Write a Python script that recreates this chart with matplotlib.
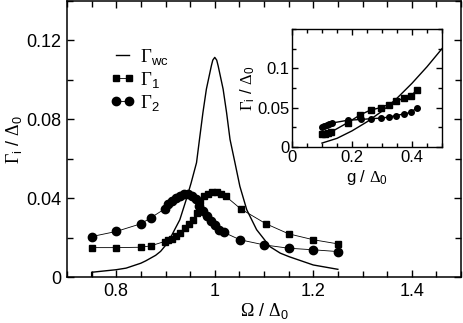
import matplotlib
matplotlib.use("Agg")
import matplotlib.pyplot as plt
from matplotlib.ticker import MultipleLocator

plt.rcParams['font.family'] = ['Liberation Sans', 'DejaVu Sans']
plt.rcParams['mathtext.fontset'] = 'custom'
plt.rcParams['mathtext.rm'] = 'Liberation Serif'
plt.rcParams['mathtext.sf'] = 'Liberation Sans'
plt.rcParams['mathtext.it'] = 'Liberation Sans:italic'

# ---- main panel data ----
wc_x = [0.75, 0.75, 0.80, 0.82, 0.85, 0.86, 0.88, 0.89, 0.90, 0.908, 0.915, 0.929, 0.942,
        0.952, 0.963, 0.969, 0.976, 0.983, 0.993, 0.996, 1.0, 1.004, 1.007, 1.017, 1.024,
        1.031, 1.041, 1.051, 1.065, 1.085, 1.112, 1.133, 1.151, 1.2, 1.25]
wc_y = [0.0, 0.0024, 0.0037, 0.0045, 0.007, 0.0082, 0.011, 0.013, 0.016, 0.0189, 0.0223, 0.029, 0.0392,
        0.0477, 0.058, 0.0698, 0.0834, 0.0953, 0.107, 0.110, 0.1114, 0.110, 0.107, 0.0953, 0.0834,
        0.0698, 0.058, 0.046, 0.0341, 0.024, 0.0154, 0.0121, 0.0103, 0.0061, 0.0039]

g1_x = [0.75, 0.80, 0.85, 0.87, 0.898, 0.906, 0.914, 0.922, 0.930, 0.939, 0.947, 0.956,
        0.963, 0.971, 0.978, 0.987, 0.995, 1.004, 1.012, 1.022, 1.053, 1.104, 1.15, 1.2, 1.25]
g1_y = [0.0149, 0.0149, 0.0151, 0.0158, 0.018, 0.0189, 0.0195, 0.0207, 0.0223, 0.0248, 0.0269, 0.029,
        0.0324, 0.0385, 0.041, 0.0423, 0.043, 0.043, 0.0423, 0.041, 0.0345, 0.027, 0.0219, 0.0189, 0.0168]

g2_x = [0.75, 0.80, 0.85, 0.87, 0.898, 0.906, 0.914, 0.922, 0.930, 0.938, 0.946, 0.954,
        0.961, 0.968, 0.976, 0.985, 0.992, 1.0, 1.009, 1.019, 1.051, 1.10, 1.15, 1.2, 1.25]
g2_y = [0.0205, 0.0231, 0.027, 0.030, 0.0345, 0.0372, 0.0388, 0.0402, 0.0412, 0.042, 0.042, 0.0413,
        0.0398, 0.0358, 0.0333, 0.0307, 0.0282, 0.0265, 0.024, 0.0226, 0.0189, 0.0163, 0.0146, 0.0138, 0.0129]

# ---- inset data ----
in_wc_g = [0.1, 0.15, 0.2, 0.25, 0.3, 0.35, 0.4, 0.45, 0.5]
in_wc_y = [0.005, 0.011, 0.0205, 0.032, 0.0455, 0.062, 0.081, 0.102, 0.125]

in_g1_g = [0.1, 0.11, 0.12, 0.13, 0.186, 0.228, 0.262, 0.295, 0.322, 0.347, 0.372, 0.398, 0.416]
in_g1_y = [0.016, 0.0165, 0.0175, 0.019, 0.031, 0.041, 0.047, 0.050, 0.054, 0.058, 0.062, 0.065, 0.073]

in_g2_g = [0.1, 0.108, 0.116, 0.124, 0.132, 0.186, 0.231, 0.264, 0.297, 0.322, 0.347, 0.372, 0.397, 0.416]
in_g2_y = [0.0249, 0.0266, 0.0283, 0.0295, 0.0304, 0.034, 0.035, 0.036, 0.0367, 0.038, 0.040, 0.042, 0.044, 0.050]

fig = plt.figure(figsize=(4.63, 3.23), dpi=100)
ax = fig.add_axes([67/463, 1-277/323, (461-67)/463, (277-1)/323])

ax.plot(wc_x, wc_y, color='black', lw=1.0, label=r'$\Gamma_{\mathsf{wc}}$')
ax.plot(g1_x, g1_y, color='black', lw=0.6, marker='s', ms=5, label=r'$\Gamma_{\mathsf{1}}$')
ax.plot(g2_x, g2_y, color='black', lw=0.6, marker='o', ms=6, label=r'$\Gamma_{\mathsf{2}}$')

ax.set_xlim(0.7, 1.5)
ax.set_ylim(0, 0.14)
ax.xaxis.set_minor_locator(MultipleLocator(0.05))
ax.yaxis.set_minor_locator(MultipleLocator(0.02))
ax.set_xticks([0.8, 1.0, 1.2, 1.4])
ax.set_xticklabels(['0.8', '1', '1.2', '1.4'])
ax.set_yticks([0, 0.04, 0.08, 0.12])
ax.set_yticklabels(['0', '0.04', '0.08', '0.12'])
ax.tick_params(which='both', direction='in', top=True, right=True, labelsize=13, width=1)
ax.tick_params(which='major', length=5, pad=4)
ax.tick_params(which='minor', length=4)
for s in ax.spines.values():
    s.set_linewidth(1.1)
ax.set_xlabel(r'$\Omega$ / $\Delta_{\mathsf{0}}$', fontsize=13, labelpad=1)
ax.set_ylabel(r'$\Gamma_{\mathsf{i}}$ / $\Delta_{\mathsf{0}}$', fontsize=13, labelpad=2)

leg = ax.legend(loc='upper left', bbox_to_anchor=((110-67)/394, (277-47)/276), frameon=False,
                fontsize=13.5, handlelength=1.3, handletextpad=0.3, labelspacing=0.15,
                borderpad=0, borderaxespad=0, numpoints=2)

# inset
ai = fig.add_axes([292/463, 1-147/323, (442-292)/463, (147-29)/323])
ai.plot(in_wc_g, in_wc_y, color='black', lw=1.0)
ai.plot(in_g1_g, in_g1_y, color='black', lw=1.0, marker='s', ms=4.5)
ai.plot(in_g2_g, in_g2_y, color='black', lw=1.0, marker='o', ms=4)
ai.set_xlim(0, 0.5)
ai.set_ylim(0, 0.15)
ai.set_xticks([0, 0.2, 0.4])
ai.set_xticklabels(['0', '0.2', '0.4'])
ai.set_yticks([0, 0.05, 0.1])
ai.set_yticklabels(['0', '0.05', '0.1'])
ai.xaxis.set_minor_locator(MultipleLocator(0.05))
ai.yaxis.set_minor_locator(MultipleLocator(0.025))
ai.tick_params(which='both', direction='in', top=True, right=True, labelsize=12, width=1)
ai.tick_params(which='major', length=4, pad=2)
ai.tick_params(which='minor', length=3)
for s in ai.spines.values():
    s.set_linewidth(1.0)
ai.set_xlabel(r'g / $\Delta_{\mathsf{0}}$', fontsize=12, labelpad=2)
ai.set_ylabel(r'$\Gamma_{\mathsf{i}}$ / $\Delta_{\mathsf{0}}$', fontsize=12, labelpad=0)

fig.savefig('out.png', dpi=100)
